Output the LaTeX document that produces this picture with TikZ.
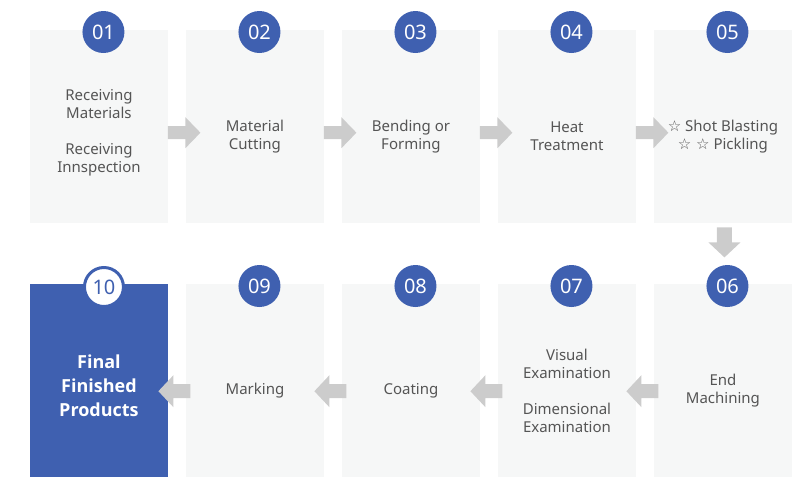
\documentclass[tikz,border=0pt]{standalone}
\usepackage{fontspec}
\setmainfont{Noto Sans}
\newfontfamily\symfont{DejaVu Sans}
\newfontfamily\boldfam{Open Sans}
\usetikzlibrary{calc}
\definecolor{stepblue}{HTML}{3F60B0}
\definecolor{boxgray}{HTML}{F6F7F7}
\definecolor{arrgray}{HTML}{CCCCCC}
\definecolor{txtgray}{HTML}{555555}
\newcommand\rarr[1]{\fill[arrgray,shift={(#1)}] (0,-6.5) -- (17.5,-6.5) -- (17.5,-15.5) -- (32.5,0) -- (17.5,15.5) -- (17.5,6.5) -- (0,6.5) -- cycle;}
\newcommand\larr[1]{\fill[arrgray,shift={(#1)}] (0,0) -- (15,-16) -- (15,-7) -- (32,-7) -- (32,7) -- (15,7) -- (15,16) -- cycle;}
\begin{document}
\begin{tikzpicture}[x=1pt,y=-1pt,
 stepbox/.style={fill=boxgray, minimum width=137.5pt, minimum height=193pt, inner sep=0pt, anchor=north west},
 numcirc/.style={circle, fill=stepblue, minimum size=42pt, inner sep=0pt, text=white, font=\fontsize{20}{20}\selectfont},
 lbl/.style={align=center, text=txtgray, font=\fontsize{15}{18}\selectfont, inner sep=0pt},
 ]
\useasboundingbox (0,0) rectangle (793,480);
% row 1 boxes
\node[stepbox] (b1) at (30,30) {};
\node[stepbox] (b2) at (186,30) {};
\node[stepbox] (b3) at (342,30) {};
\node[stepbox] (b4) at (498,30) {};
\node[stepbox] (b5) at (654,30) {};
% row 2 boxes
\node[stepbox, fill=stepblue] (b10) at (30,284) {};
\node[stepbox] (b9) at (186,284) {};
\node[stepbox] (b8) at (342,284) {};
\node[stepbox] (b7) at (498,284) {};
\node[stepbox] (b6) at (654,284) {};
% arrows row 1
\path ($(b1.east)+(0,6)$) coordinate (a1);
\path ($(b2.east)+(0,6)$) coordinate (a2);
\path ($(b3.east)+(0,6)$) coordinate (a3);
\path ($(b4.east)+(0,6)$) coordinate (a4);
\rarr{a1}\rarr{a2}\rarr{a3}\rarr{a4}
% down arrow
\path ($(b5.south)+(1.5,0)$) coordinate (a5);
\fill[arrgray,shift={(a5)}] (-7.5,4) -- (7.5,4) -- (7.5,19) -- (16,19) -- (0,34) -- (-16,19) -- (-7.5,19) -- cycle;
% arrows row 2
\path ($(b10.east)+(-9.5,10.5)$) coordinate (a9);
\path ($(b9.east)+(-9.5,10.5)$) coordinate (a8);
\path ($(b8.east)+(-9.5,10.5)$) coordinate (a7);
\path ($(b7.east)+(-9.5,10.5)$) coordinate (a6);
\larr{a9}\larr{a8}\larr{a7}\larr{a6}
% circles
\node[numcirc] (c1) at ($(b1.north)+(4.5,2)$) {01};
\node[numcirc] (c2) at ($(b2.north)+(4.5,2)$) {02};
\node[numcirc] (c3) at ($(b3.north)+(4.5,2)$) {03};
\node[numcirc] (c4) at ($(b4.north)+(4.5,2)$) {04};
\node[numcirc] (c5) at ($(b5.north)+(4.5,2)$) {05};
\node[numcirc] (c6) at ($(b6.north)+(4.5,2)$) {06};
\node[numcirc] (c7) at ($(b7.north)+(4.5,2)$) {07};
\node[numcirc] (c8) at ($(b8.north)+(4.5,2)$) {08};
\node[numcirc] (c9) at ($(b9.north)+(4.5,2)$) {09};
\node[numcirc, fill=white, draw=stepblue, line width=3pt, minimum size=39pt, text=stepblue] (c10) at ($(b10.north)+(5,3)$) {10};
% labels
\node[lbl] (t1) at ($(b1.center)+(0,6.5)$) {Receiving\\Materials\\[18pt]Receiving\\Innspection};
\node[lbl] (t2) at ($(b2.center)+(0,10)$) {Material\\Cutting};
\node[lbl] (t3) at ($(b3.center)+(0,10)$) {Bending or\\Forming};
\node[lbl] (t4) at ($(b4.center)+(0,10)$) {Heat\\Treatment};
\node[lbl] (t5) at ($(b5.center)+(0,10)$) {{\symfont\fontsize{15}{18}\selectfont ☆} Shot Blasting\\{\symfont\fontsize{15}{18}\selectfont ☆ ☆} Pickling};
\node[lbl] (t6) at ($(b6.center)+(0,10)$) {End\\Machining};
\node[lbl] (t7) at ($(b7.center)+(0,10)$) {Visual\\Examination\\[18pt]Dimensional\\Examination};
\node[lbl] (t8) at ($(b8.center)+(0,10)$) {Coating};
\node[lbl] (t9) at ($(b9.center)+(0,10)$) {Marking};
\node[lbl, text=white, font=\boldfam\bfseries\fontsize{18}{24}\selectfont] (t10) at ($(b10.center)+(0,5.5)$) {Final\\Finished\\Products};
\end{tikzpicture}
\end{document}
